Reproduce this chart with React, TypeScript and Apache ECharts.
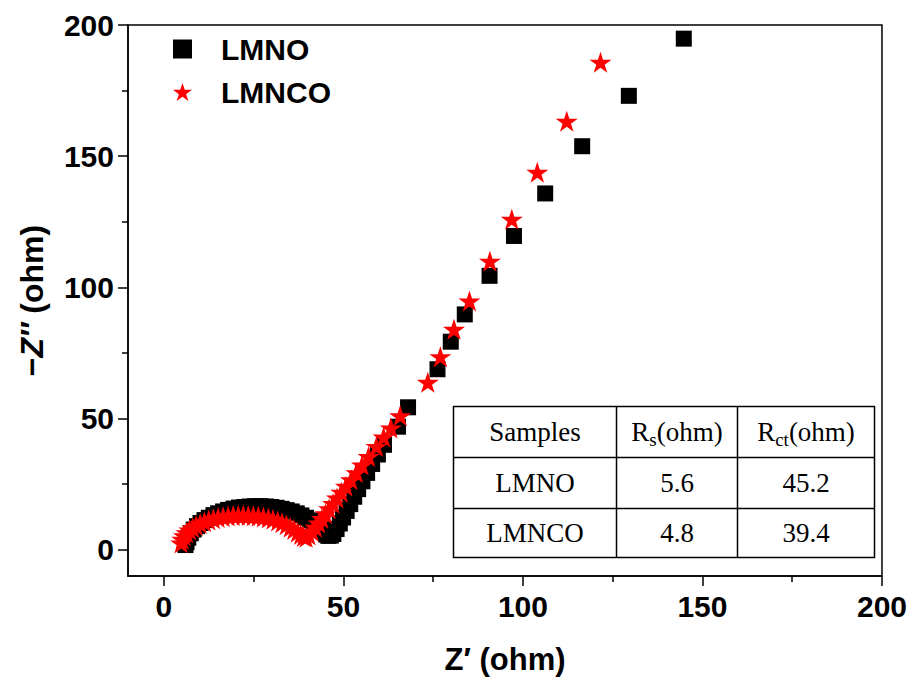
import React, { useEffect, useRef } from 'react';
import * as echarts from 'echarts';

// Z' (x) and -Z'' (y) values, ohm
const lmnoZre = [
  6.0, 6.3, 6.8, 7.5, 8.3, 9.2, 10.2, 11.3, 12.5, 13.8, 15.1, 16.5, 17.9, 19.4, 20.9, 22.4, 23.9, 25.4,
  26.9, 28.4, 29.9, 31.4, 32.8, 34.2, 35.6, 37.0, 38.3, 39.6, 40.8, 41.9, 42.9, 43.8, 44.6, 45.2, 45.8, 46.5,
  47.2, 48.1, 49.0, 49.9, 50.9, 51.9, 53.0, 54.1, 55.3, 56.6, 58.0, 59.6, 61.3, 65.2, 68.0, 76.2, 79.9,
  83.8, 90.7, 97.5, 106.2, 116.5, 129.5, 144.8,
];
const lmnoZim = [
  1.8, 2.9, 4.6, 6.3, 7.7, 9.0, 10.2, 11.3, 12.2, 13.2, 13.9, 14.6, 15.2, 15.7, 16.1, 16.3, 16.5, 16.6,
  16.6, 16.5, 16.3, 16.0, 15.6, 15.1, 14.6, 13.9, 13.1, 12.2, 11.2, 10.1, 9.2, 8.1, 6.8, 5.8, 5.3, 5.4,
  6.0, 7.9, 10.0, 12.3, 14.8, 17.4, 20.2, 23.1, 26.1, 29.3, 32.7, 36.3, 40.0, 46.9, 54.3, 68.8, 79.3,
  89.7, 104.4, 119.6, 135.8, 153.8, 173.0, 194.8,
];
const lmncoZre = [
  4.8, 5.1, 5.6, 6.3, 7.1, 8.0, 9.0, 10.1, 11.3, 12.5, 13.8, 15.1, 16.5, 17.9, 19.3, 20.7, 22.1, 23.5,
  24.9, 26.3, 27.7, 29.1, 30.4, 31.7, 32.9, 34.1, 35.2, 36.2, 37.2, 38.1, 38.9, 39.6,
  40.4, 41.3, 42.2, 43.1, 44.0, 45.0, 46.0, 47.1, 48.2, 49.4, 50.7, 52.1, 53.6, 55.2, 57.0, 59.2, 61.2,
  63.2, 65.8, 73.5, 77.0, 80.8, 85.1, 90.8, 96.9, 104.0, 112.2, 121.6,
];
const lmncoZim = [
  2.6, 4.0, 5.3, 6.5, 7.5, 8.4, 9.2, 10.0, 10.7, 11.3, 11.8, 12.3, 12.6, 12.9, 13.1, 13.2, 13.2, 13.1,
  13.0, 12.8, 12.5, 12.1, 11.6, 11.0, 10.3, 9.5, 8.6, 7.7, 6.7, 5.8, 5.1, 4.8,
  5.6, 7.0, 8.6, 10.2, 11.9, 13.7, 15.6, 17.6, 19.7, 21.9, 24.2, 26.7, 29.4, 32.3, 35.5, 39.4, 43.0,
  46.4, 51.1, 63.8, 73.6, 84.0, 94.8, 110.0, 126.0, 143.9, 163.3, 185.8,
];

const seriesNames = ['LMNO', 'LMNCO'];
const majorTicks = [0, 50, 100, 150, 200];
const minorTicks = [25, 75, 125, 175];

const tableSamples = ['LMNO', 'LMNCO'];
const tableRs = ['5.6', '4.8'];
const tableRct = ['45.2', '39.4'];

const STAR =
  'path://M50,2 L61.2,36.5 L97.6,36.5 L68.2,57.9 L79.4,92.5 L50,71.1 L20.6,92.5 L31.8,57.9 L2.4,36.5 L38.8,36.5 Z';

const SANS = '"Liberation Sans", Arial, sans-serif';
const SERIF = '"Liberation Serif", "Times New Roman", serif';

function pairs(xs: number[], ys: number[]) {
  return xs.map((x, i) => [x, ys[i]]);
}

function axisPair(kind: 'x' | 'y', extra: any) {
  const labelStyle =
    kind === 'x'
      ? { fontFamily: SANS, fontWeight: 'bold', fontSize: 30, color: '#000', margin: 15 }
      : { fontFamily: SANS, fontWeight: 'bold', fontSize: 30, color: '#000', margin: 14 };
  return [
    {
      type: 'value',
      min: -10,
      max: 200,
      position: kind === 'x' ? 'bottom' : 'left',
      axisLine: { show: true, onZero: false, lineStyle: { color: '#000', width: 1.5 } },
      axisTick: { show: true, customValues: majorTicks, length: 10, lineStyle: { color: '#000', width: 1.5 } },
      axisLabel: { show: true, customValues: majorTicks, ...labelStyle },
      splitLine: { show: false },
      ...extra,
    },
    {
      type: 'value',
      min: -10,
      max: 200,
      position: kind === 'x' ? 'bottom' : 'left',
      axisLine: { show: false, onZero: false },
      axisTick: { show: true, customValues: minorTicks, length: 6, lineStyle: { color: '#000', width: 1.5 } },
      axisLabel: { show: false },
      splitLine: { show: false },
    },
  ];
}

function cellText(x: number, y: number, text: string, rich?: any) {
  return {
    type: 'text',
    x,
    y,
    style: {
      text,
      fontFamily: SERIF,
      fontSize: 27,
      fill: '#000',
      align: 'center',
      verticalAlign: 'middle',
      rich,
    },
  };
}

export default function App() {
  const ref = useRef<HTMLDivElement>(null);

  useEffect(() => {
    if (!ref.current) return;
    const chart = echarts.init(ref.current, undefined, { renderer: 'svg' });

    const subRich = {
      a: { fontFamily: SERIF, fontSize: 27, fill: '#000', color: '#000' },
      s: { fontFamily: SERIF, fontSize: 19, color: '#000', padding: [14, 0, 0, 0] },
    };

    const tx = 451;
    const ty = 404;
    const tw = 421;
    const th = 151;
    const c1 = 163;
    const c2 = 284;
    const r1 = 51;
    const r2 = 102;
    const lineStyle = { stroke: '#000', lineWidth: 1.5 };

    const tableChildren: any[] = [
      { type: 'rect', shape: { x: 0, y: 0, width: tw, height: th }, style: { fill: 'none', ...lineStyle } },
      { type: 'line', shape: { x1: 0, y1: r1, x2: tw, y2: r1 }, style: lineStyle },
      { type: 'line', shape: { x1: 0, y1: r2, x2: tw, y2: r2 }, style: lineStyle },
      { type: 'line', shape: { x1: c1, y1: 0, x2: c1, y2: th }, style: lineStyle },
      { type: 'line', shape: { x1: c2, y1: 0, x2: c2, y2: th }, style: lineStyle },
      cellText(c1 / 2, r1 / 2, 'Samples'),
      cellText((c1 + c2) / 2, r1 / 2, '{a|R}{s|s}{a|(ohm)}', subRich),
      cellText((c2 + tw) / 2, r1 / 2, '{a|R}{s|ct}{a|(ohm)}', subRich),
    ];
    tableSamples.forEach((s, i) => {
      const cy = i === 0 ? (r1 + r2) / 2 : (r2 + th) / 2;
      tableChildren.push(cellText(c1 / 2, cy, s));
      tableChildren.push(cellText((c1 + c2) / 2, cy, tableRs[i]));
      tableChildren.push(cellText((c2 + tw) / 2, cy, tableRct[i]));
    });

    const option: any = {
      animation: false,
      backgroundColor: '#fff',
      grid: {
        left: 128,
        right: 28,
        top: 25,
        bottom: 106,
        show: true,
        borderColor: '#000',
        borderWidth: 1.5,
        backgroundColor: 'transparent',
      },
      xAxis: axisPair('x', {
        name: 'Z′ (ohm)',
        nameLocation: 'middle',
        nameGap: 68,
        nameTextStyle: { fontFamily: SANS, fontWeight: 'bold', fontSize: 31, color: '#000' },
      }),
      yAxis: axisPair('y', {
        name: '{n|−}{i|Z′′}{n| (ohm)}',
        nameLocation: 'middle',
        nameGap: 80,
        nameRotate: 90,
        nameTextStyle: {
          fontFamily: SANS,
          fontWeight: 'bold',
          fontSize: 32,
          color: '#000',
          rich: {
            n: { fontFamily: SANS, fontWeight: 'bold', fontSize: 32, color: '#000' },
            i: { fontFamily: SANS, fontWeight: 'bold', fontStyle: 'italic', fontSize: 32, color: '#000' },
          },
        },
      }),
      legend: {
        orient: 'vertical',
        left: 168,
        top: 29,
        itemWidth: 19,
        itemHeight: 19,
        itemGap: 13,
        textStyle: {
          fontFamily: SANS,
          fontWeight: 'bold',
          fontSize: 30,
          color: '#000',
          padding: [0, 0, 0, 24],
        },
        data: [
          { name: seriesNames[0], icon: 'rect' },
          { name: seriesNames[1], icon: STAR },
        ],
      },
      series: [
        {
          type: 'scatter',
          name: seriesNames[0],
          xAxisIndex: 0,
          yAxisIndex: 0,
          data: pairs(lmnoZre, lmnoZim),
          symbol: 'rect',
          symbolSize: 16,
          itemStyle: { color: '#000', opacity: 1 },
        },
        {
          type: 'scatter',
          name: seriesNames[1],
          xAxisIndex: 0,
          yAxisIndex: 0,
          data: pairs(lmncoZre, lmncoZim),
          symbol: STAR,
          symbolSize: [22, 21],
          itemStyle: { color: '#ff0000', opacity: 1 },
        },
      ],
      graphic: [
        {
          type: 'group',
          left: tx,
          top: ty,
          children: tableChildren,
        },
      ],
    };

    chart.setOption(option);
    return () => chart.dispose();
  }, []);

  return (
    <div
      ref={ref}
      style={{ position: 'fixed', left: 0, top: 0, width: 910, height: 682, background: '#fff' }}
    />
  );
}
